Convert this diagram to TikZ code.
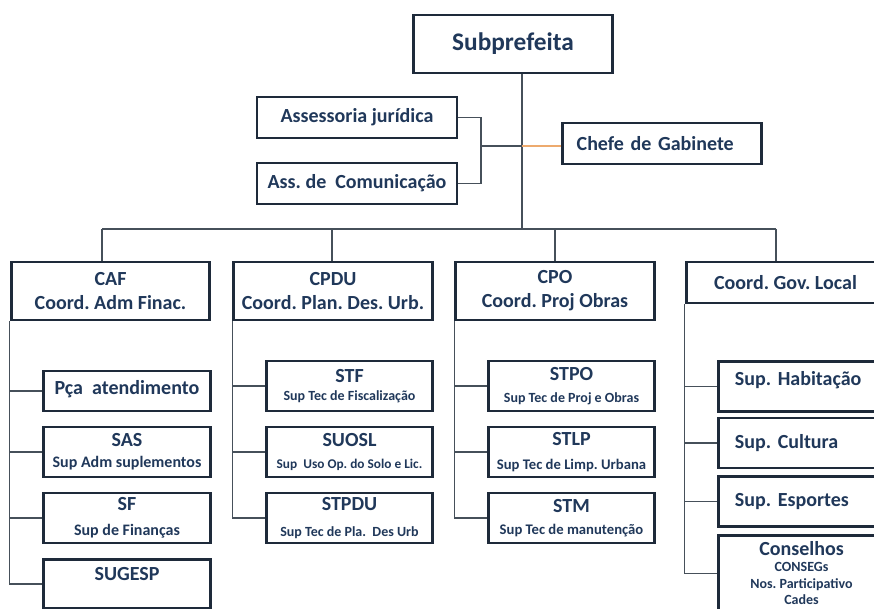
\documentclass[tikz,border=0pt]{standalone}
\usepackage{fontspec}
\setmainfont{Carlito}
\usepackage{tikz}

\definecolor{navy}{RGB}{32,56,90}
\definecolor{edge}{RGB}{30,42,58}
\definecolor{wire}{RGB}{70,80,90}
\definecolor{gold}{RGB}{237,170,110}

\newcommand\subt[2][10.5]{{\fontsize{#1}{#1}\selectfont #2}}
\newcommand\lift[2]{\raisebox{#1}[\height][\depth]{#2}}

\begin{document}
\frenchspacing
\begin{tikzpicture}[x=0.75pt,y=-0.75pt,
    box/.style={draw=edge,line width=2.2pt,fill=white,text=navy,align=center,inner sep=1pt,
        font=\bfseries\fontsize{15}{18}\selectfont},
    head/.style={box,minimum width=149pt},
    unit/.style={box,minimum width=125pt,minimum height=37.5pt},
    link/.style={wire,line width=0.9pt}]

    \clip (0,0) rectangle (874,609);
    \fill[white] (0,0) rectangle (874,609);

    \coordinate (bus) at (522,229);
    \coordinate (brk) at (481,146);
    \coordinate (d1) at (102,229);
    \coordinate (d2) at (332,229);
    \coordinate (d3) at (555,229);
    \coordinate (d4) at (776,229);

    % top
    \node[head,minimum height=43.5pt,font=\bfseries\fontsize{19}{22}\selectfont] (sub) at (513,44) {Subprefeita};
    \node[head,minimum width=150pt,minimum height=30.75pt] (ajur) at (357,117.5) {Assessoria jurídica};
    \node[head,minimum width=150pt,minimum height=30.75pt] (acom) at (357,183.5) {Ass. de~~Comunicação};
    \node[head,minimum height=30.75pt,text width=128pt,align=left] (chefe) at (662,143.5) {Chefe de Gabinete};

    % coordenadorias
    \node[head,minimum height=43.5pt] (caf) at (110.5,291) {CAF\\Coord. Adm Finac.};
    \node[head,minimum height=43.5pt] (cpdu) at (333,291) {CPDU\\Coord. Plan. Des. Urb.};
    \node[head,minimum height=43.5pt] (cpo) at (555,291) {CPO\\Coord. Proj Obras};
    \node[head,minimum height=30.75pt] (cgl) at (785.5,282.5) {Coord. Gov. Local};

    % CAF
    \node[unit,minimum height=30pt] (pca) at (127,391) {\lift{1.5pt}{Pça~~atendimento}};
    \node[unit] (sas) at (127,452) {SAS\\[-2pt]\subt[12]{Sup Adm suplementos}};
    \node[unit] (sf) at (127,518) {SF\\[1pt]\subt[12]{Sup de Finanças}};
    \node[unit,anchor=north,minimum height=0pt,inner ysep=6pt,text depth=15pt] (sugesp) at (127,558) {SUGESP};

    % CPDU
    \node[unit] (stf) at (349.5,386) {STF\\[-4pt]\subt{Sup Tec de Fiscalização}};
    \node[unit] (suosl) at (349.5,452) {SUOSL\\[-2pt]\subt[10]{Sup~~Uso Op. do Solo e Lic.}};
    \node[unit] (stpdu) at (349.5,518) {STPDU\\[1pt]\subt{Sup Tec de Pla.~~Des Urb}};

    % CPO
    \node[unit] (stpo) at (571.5,386) {STPO\\[-1pt]\subt{Sup Tec de Proj e Obras}};
    \node[unit] (stlp) at (571.5,452) {STLP\\[0pt]\subt[11]{Sup Tec de Limp. Urbana}};
    \node[unit] (stm) at (571.5,518) {STM\\[-1.5pt]\subt[11]{Sup Tec de manutenção}};

    % Gov. Local
    \node[unit,minimum height=37pt,text width=100pt,align=left] (hab) at (801.5,386.5) {\lift{4.5pt}{Sup. Habitação}};
    \node[unit,text width=100pt,align=left] (cult) at (801.5,443) {Sup. Cultura};
    \node[unit,minimum height=37pt,text width=100pt,align=left] (esp) at (801.5,501.5) {Sup. Esportes};
    \node[unit,anchor=north,minimum height=0pt,inner ysep=4.5pt] (cons) at (801.5,534)
        {Conselhos\\[-6pt]\subt{CONSEGs}\\[-5.5pt]\subt{Nos. Participativo}\\[-5.5pt]\subt{Cades}};

    % ligacoes
    \draw[link] (sub.south -| bus) -- (bus);
    \draw[link] (ajur.east) -| (brk) |- (acom.east);
    \draw[link] (brk) -- (brk -| bus);
    \draw[gold,line width=0.9pt] (brk -| bus) -- (brk -| chefe.west);
    \draw[link] (d1) -- (d4);
    \foreach \d/\c in {d1/caf,d2/cpdu,d3/cpo,d4/cgl}
        \draw[link] (\d) -- (\d |- \c.north);
    \foreach \b in {pca,sas,sf,sugesp}
        \draw[link] (caf.south west) |- (\b.west);
    \foreach \b in {stf,suosl,stpdu}
        \draw[link] (cpdu.south west) |- (\b.west);
    \foreach \b in {stpo,stlp,stm}
        \draw[link] (cpo.south west) |- (\b.west);
    \foreach \b in {hab,cult,esp,cons}
        \draw[link] (cgl.south west) |- (\b.west);

\end{tikzpicture}
\end{document}
